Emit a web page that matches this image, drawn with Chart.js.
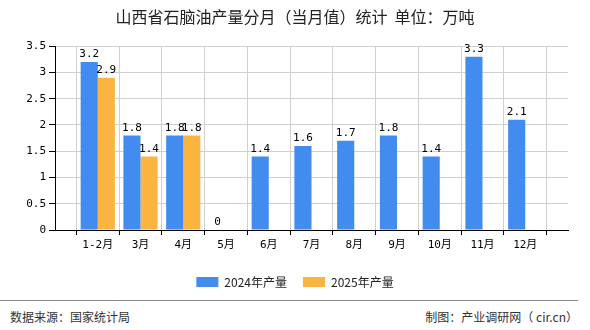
<!DOCTYPE html>
<html>
<head>
<meta charset="utf-8">
<script src="https://cdn.jsdelivr.net/npm/chart.js@4/dist/chart.umd.min.js"></script>
<style>
  html, body { margin: 0; padding: 0; background: #fff; }
  #wrap { position: relative; width: 590px; height: 330px; overflow: hidden; }
  #box { position: absolute; left: 0; top: 0; width: 590px; height: 298px; }
  #footLine { position: absolute; left: 0; top: 300px; width: 578px; height: 0; border-top: 1px solid #8a8a8a; }
  .foot { position: absolute; top: 308px; font: 12px 'Noto Sans CJK SC', sans-serif; color: #333; }
</style>
</head>
<body>
<div id="wrap">
  <div id="box"><canvas id="chart"></canvas></div>
  <div id="footLine"></div>
  <div class="foot" style="left:10px">数据来源：国家统计局</div>
  <div class="foot" style="right:12px">制图：产业调研网（ cir.cn）</div>
</div>
<script>
const months = ['1-2月', '3月', '4月', '5月', '6月', '7月', '8月', '9月', '10月', '11月', '12月'];
const output2024 = [3.2, 1.8, 1.8, 0, 1.4, 1.6, 1.7, 1.8, 1.4, 3.3, 2.1];
const output2025 = [2.9, 1.4, 1.8, null, null, null, null, null, null, null, null];
const yTicks = [0, 0.5, 1, 1.5, 2, 2.5, 3, 3.5];

const blue = 'rgb(66, 139, 239)';
const orange = 'rgb(252, 180, 65)';
const monoFont = "'DejaVu Sans Mono', 'Noto Sans CJK SC', monospace";

// an empty slot on each side, like the original chart
const labels = [''].concat(months, ['']);
const pad = arr => [null].concat(arr, [null]);

// value labels above bars
const barLabels = {
    id: 'barLabels',
    afterDatasetsDraw(chart) {
        const ctx = chart.ctx;
        ctx.save();
        ctx.font = '11px ' + monoFont;
        ctx.fillStyle = '#000';
        ctx.textAlign = 'center';
        ctx.textBaseline = 'bottom';
        chart.data.datasets.forEach((ds, i) => {
            const meta = chart.getDatasetMeta(i);
            meta.data.forEach((bar, j) => {
                const v = ds.data[j];
                if (v === null || v === undefined) return;
                ctx.fillText(String(v), bar.x, bar.y - 2);
            });
        });
        ctx.restore();
    }
};

new Chart(document.getElementById('chart'), {
    type: 'bar',
    data: {
        labels: labels,
        datasets: [
            { label: '2024年产量', data: pad(output2024), backgroundColor: blue, categoryPercentage: 0.8, barPercentage: 1.0 },
            { label: '2025年产量', data: pad(output2025), backgroundColor: orange, categoryPercentage: 0.8, barPercentage: 1.0 }
        ]
    },
    options: {
        responsive: true,
        maintainAspectRatio: false,
        animation: false,
        layout: { padding: { left: 22, right: 22, top: 0, bottom: 0 } },
        plugins: {
            title: {
                display: true,
                text: '山西省石脑油产量分月（当月值）统计  单位：万吨',
                color: '#222',
                font: { size: 16, family: "'Noto Sans CJK SC', sans-serif", weight: 'normal' },
                padding: { top: 7, bottom: 20 }
            },
            legend: {
                position: 'bottom',
                labels: {
                    boxWidth: 22,
                    boxHeight: 10,
                    color: '#222',
                    padding: 16,
                    font: { size: 12, family: "'Noto Sans CJK SC', sans-serif" }
                }
            },
            tooltip: { enabled: false }
        },
        scales: {
            x: {
                offset: false,
                grid: { color: '#d0d0d0', tickColor: '#000', tickLength: 5 },
                border: { color: '#000' },
                ticks: { color: '#000', font: { size: 11, family: monoFont }, maxRotation: 0, autoSkip: false, padding: 4 },
                afterFit(scale) { scale.height = 30; }
            },
            y: {
                min: 0,
                max: 3.5,
                afterBuildTicks(scale) { scale.ticks = yTicks.map(v => ({ value: v })); },
                grid: { color: '#d0d0d0', tickColor: '#000', tickLength: 6 },
                border: { color: '#000' },
                ticks: { color: '#000', font: { size: 11, family: monoFont }, padding: 3, callback: v => String(v) },
                afterFit(scale) { scale.width = 33; }
            }
        }
    },
    plugins: [barLabels]
});
</script>
</body>
</html>
